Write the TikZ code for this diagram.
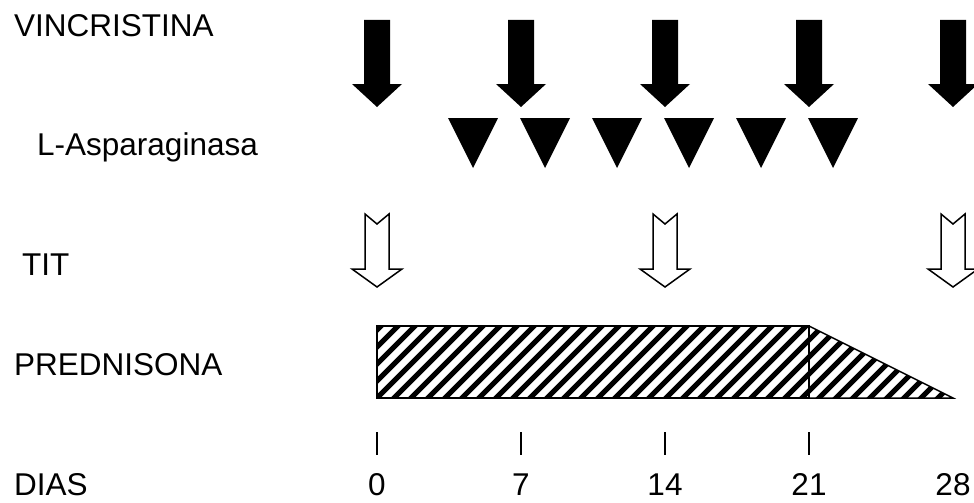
\documentclass[tikz,border=0pt]{standalone}
\usepackage{fontspec}
\setmainfont{Liberation Sans}
\begin{document}
\begin{tikzpicture}[x=1pt,y=-1pt,
  lbl/.style={anchor=base west,inner sep=0pt,font=\fontsize{31.5}{36}\selectfont},
  num/.style={anchor=base,inner sep=0pt,font=\fontsize{31.5}{36}\selectfont},
  blackarrow/.style={fill=black,draw=none},
  hollowarrow/.style={draw=black,fill=white,line width=1.5pt,line join=miter},
  outline/.style={draw=black,line width=1.5pt}]
\useasboundingbox (0,0) rectangle (974,503);
% labels
\node[lbl] (vin) at (14,37) {VINCRISTINA};
\node[lbl] (asp) at (37,155) {L-Asparaginasa};
\node[lbl] (tit) at (22,275) {TIT};
\node[lbl] (pred) at (14,375) {PREDNISONA};
\node[lbl] (dias) at (14,495) {DIAS};
% vincristina arrows
\foreach \x in {377,521,665,809,953}
  \fill[blackarrow] (\x-13,20) -- (\x+13,20) -- (\x+13,84) -- (\x+25,84) -- (\x,107) -- (\x-25,84) -- (\x-13,84) -- cycle;
% L-asparaginasa triangles
\foreach \x in {473,545,617,689,761,833}
  \fill[blackarrow] (\x-25,118) -- (\x+25,118) -- (\x,168) -- cycle;
% TIT hollow arrows
\foreach \x in {377,665,953}
  \draw[hollowarrow] (\x-12,214) -- (\x,224) -- (\x+12,214) -- (\x+12,269) -- (\x+25,269) -- (\x,287) -- (\x-25,269) -- (\x-12,269) -- cycle;
% prednisona hatch
\begin{scope}
  \clip (377,326) -- (809,326) -- (953,398) -- (377,398) -- cycle;
  \foreach \i in {290,307,...,980}
    \draw[line width=5pt] (\i,400) -- (\i+76,324);
\end{scope}
\draw[outline] (377,326) rectangle (809,398);
\draw[outline] (809,326) -- (953,398) -- (809,398);
% ticks
\foreach \x in {377,521,665,809}
  \draw[line width=1.2pt] (\x,432) -- (\x,455);
% day numbers
\node[num] (d0) at (377,495) {0};
\node[num] (d7) at (521,495) {7};
\node[num] (d14) at (665,495) {14};
\node[num] (d21) at (809,495) {21};
\node[num] (d28) at (953,495) {28};
\end{tikzpicture}
\end{document}
